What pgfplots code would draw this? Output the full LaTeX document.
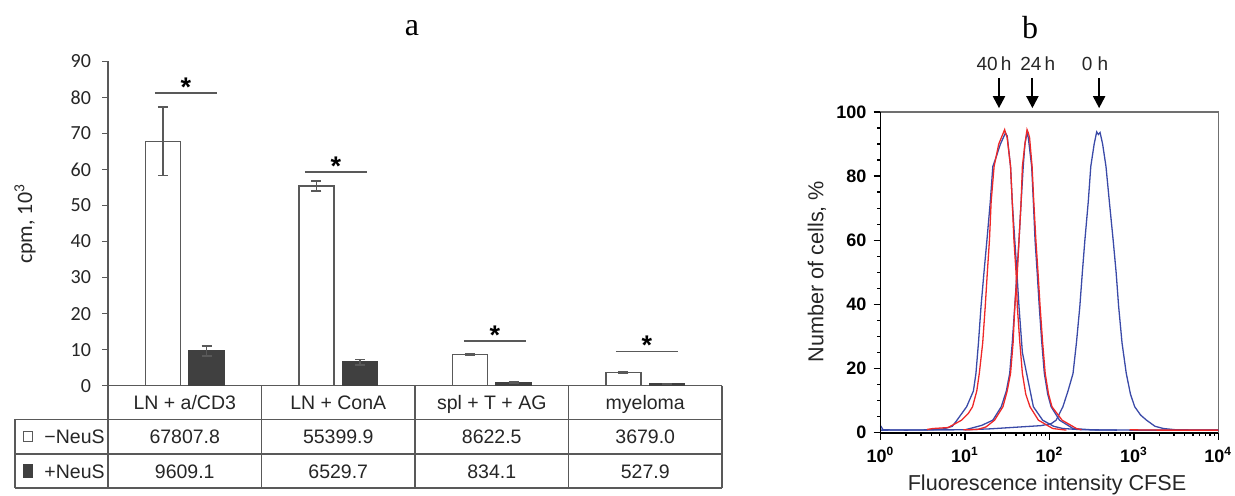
\documentclass[border=0pt]{standalone}
\usepackage{fontspec}
\setmainfont{Liberation Sans}
\newfontfamily\carlito{Carlito}
\newfontfamily\lserif{Liberation Serif}
\usepackage{pgfplots}
\pgfplotsset{compat=1.18}
\usetikzlibrary{arrows.meta}
\definecolor{axgray}{HTML}{595959}
\definecolor{barDark}{HTML}{404040}
\definecolor{txtgray}{HTML}{262626}
\definecolor{cblue}{HTML}{3A4AA8}
\definecolor{cred}{HTML}{EE2828}
\definecolor{boxgray}{HTML}{707070}

\begin{document}
\begin{tikzpicture}[x=1pt,y=1pt]
\path[use as bounding box] (0,0) rectangle (617.5,248);

% panel titles
\node[font=\lserif\fontsize{16}{18}\selectfont] at (206,234) {a};
\node[font=\lserif\fontsize{16}{18}\selectfont] at (515,234) {b};

% ---------------- panel a ----------------
\begin{axis}[
  at={(54pt,55.15pt)}, anchor=south west,
  scale only axis, width=307pt, height=162.2pt,
  xmin=-0.5, xmax=3.5, ymin=0, ymax=90,
  axis x line=bottom, axis y line=left,
  axis line style={-, draw=axgray, line width=0.75pt},
  x axis line style={-}, y axis line style={-},
  xtick=\empty, ytick={0,10,...,90},
  tick align=outside, major tick length=3pt,
  ytick style={draw=axgray, line width=0.75pt},
  yticklabel style={font=\carlito\fontsize{10}{11}\selectfont, text=txtgray, xshift=-2pt},
  /pgf/number format/assume math mode=true,
  clip=false,
]
% -NeuS (bars placed left of each category centre)
\addplot[ybar, bar width=17.5pt, bar shift=0pt, fill=white, draw=axgray, line width=0.75pt,
  error bars/.cd, y dir=both, y explicit,
  error bar style={axgray, line width=0.75pt},
  error mark options={rotate=90, axgray, mark size=2.5pt, line width=0.75pt}]
  coordinates {(-0.142,67.8078) +- (0,9.5) (0.858,55.3999) +- (0,1.35) (1.858,8.6225) +- (0,0.3) (2.858,3.6790) +- (0,0.2)};
% +NeuS (bars placed right of each category centre)
\addplot[ybar, bar width=17.5pt, bar shift=0pt, fill=barDark, draw=barDark, line width=0.75pt,
  error bars/.cd, y dir=both, y explicit,
  error bar style={axgray, line width=0.75pt},
  error mark options={rotate=90, axgray, mark size=2.5pt, line width=0.75pt}]
  coordinates {(0.142,9.6091) +- (0,1.4) (1.142,6.5297) +- (0,0.8) (2.142,0.8341) +- (0,0.15) (3.142,0.5279) +- (0,0.08)};
% significance lines
\addplot[axgray, line width=0.8pt, mark=none] coordinates {(-0.194,81.2) (0.21,81.2)};
\addplot[axgray, line width=0.8pt, mark=none] coordinates {(0.783,59.3) (1.187,59.3)};
\addplot[axgray, line width=0.8pt, mark=none] coordinates {(1.819,12.4) (2.223,12.4)};
\addplot[axgray, line width=0.8pt, mark=none] coordinates {(2.809,9.5) (3.213,9.5)};
\node[font=\bfseries\fontsize{13.5}{14}\selectfont, anchor=base, yshift=-1.6pt] at (axis cs:0.008,81.2) {*};
\node[font=\bfseries\fontsize{13.5}{14}\selectfont, anchor=base, yshift=-1.6pt] at (axis cs:0.985,59.3) {*};
\node[font=\bfseries\fontsize{13.5}{14}\selectfont, anchor=base, yshift=-1.6pt] at (axis cs:2.021,12.4) {*};
\node[font=\bfseries\fontsize{13.5}{14}\selectfont, anchor=base, yshift=-1.6pt] at (axis cs:3.011,9.5) {*};
% table
\draw[axgray, line width=0.75pt]
  (axis cs:-0.5,0) -- (axis cs:-0.5,-28.4)
  (axis cs:0.5,0) -- (axis cs:0.5,-28.4)
  (axis cs:1.5,0) -- (axis cs:1.5,-28.4)
  (axis cs:2.5,0) -- (axis cs:2.5,-28.4)
  (axis cs:3.5,0) -- (axis cs:3.5,-28.4)
  (axis cs:-1.106,-9.32) -- (axis cs:-1.106,-28.4)
  (axis cs:-1.106,-9.32) -- (axis cs:3.5,-9.32)
  (axis cs:-1.106,-18.95) -- (axis cs:3.5,-18.95)
  (axis cs:-1.106,-28.4) -- (axis cs:3.5,-28.4);
\begin{scope}[every node/.style={font=\fontsize{9.75}{11}\selectfont, text=txtgray, text height=7pt, text depth=0pt}]
\node at (axis cs:0,-4.66) {LN + a/CD3};
\node at (axis cs:1,-4.66) {LN + ConA};
\node at (axis cs:2,-4.66) {spl + T + AG};
\node at (axis cs:3,-4.66) {myeloma};
\node at (axis cs:0,-14.15) {67807.8};
\node at (axis cs:1,-14.15) {55399.9};
\node at (axis cs:2,-14.15) {8622.5};
\node at (axis cs:3,-14.15) {3679.0};
\node at (axis cs:0,-23.67) {9609.1};
\node at (axis cs:1,-23.67) {6529.7};
\node at (axis cs:2,-23.67) {834.1};
\node at (axis cs:3,-23.67) {527.9};
\node[anchor=east, inner xsep=0pt] at (axis cs:-0.5195,-14.15) {−NeuS};
\node[anchor=east, inner xsep=0pt] at (axis cs:-0.5195,-23.67) {+NeuS};
\end{scope}
\node[draw=axgray, fill=white, line width=0.6pt, minimum width=4.8pt, minimum height=5pt, inner sep=0pt] at (axis cs:-1.0215,-14.15) {};
\node[draw=barDark, fill=barDark, line width=0.4pt, minimum width=4.8pt, minimum height=6.4pt, inner sep=0pt] at (axis cs:-1.0215,-23.67) {};
\end{axis}
\node[rotate=90, font=\carlito\fontsize{11}{13}\selectfont, text=txtgray] at (12.5,136) {cpm, 10\textsuperscript{3}};

% ---------------- panel b ----------------
\begin{axis}[
  at={(440.25pt,31.65pt)}, anchor=south west,
  scale only axis, width=168.9pt, height=160.35pt,
  xmode=log, log basis x=10, xmin=1, xmax=10000, ymin=0, ymax=100,
  axis line style={draw=boxgray, line width=0.7pt},
  xtick={1,10,100,1000,10000},
  xticklabels={10\textsuperscript{0},10\textsuperscript{1},10\textsuperscript{2},10\textsuperscript{3},10\textsuperscript{4}},
  minor xtick={2,3,4,5,6,7,8,9,20,30,40,50,60,70,80,90,200,300,400,500,600,700,800,900,2000,3000,4000,5000,6000,7000,8000,9000},
  ytick={0,20,40,60,80,100},
  yticklabels={0,20,40,60,80,100},
  minor ytick={5,10,15,25,30,35,45,50,55,65,70,75,85,90,95},
  xtick pos=bottom, ytick pos=left,
  tick align=outside, major tick length=3.5pt, minor tick length=1.6pt,
  tick style={black, line width=0.7pt},
  ticklabel style={font=\bfseries\fontsize{9}{10}\selectfont},
  clip=false,
]
% blue 0 h
\addplot[cblue, line width=0.65pt, mark=none] coordinates {
(1,0.8) (10,0.9) (19.95,1.2) (39.81,1.7) (79.43,2.2) (104.7,2.8) (120.2,3.9) (144.5,8.1) (166.0,13) (190.5,18.5) (208.9,28) (229.1,39.3) (245.5,50) (263.0,60) (288.4,72) (309.0,83) (338.8,90) (363.1,93.8) (380.2,93.0) (398.1,93.6) (426.6,90) (467.7,83) (512.9,72) (568.9,60) (616.6,50) (660.7,39.3) (724.4,28) (812.8,18.5) (912.0,12) (1023,8.1) (1202,5.5) (1413,3.9) (1778,2.0) (2239,1.3) (3162,0.9) (10000,0.8)};
% blue 40 h
\addplot[cblue, line width=0.65pt, mark=none] coordinates {
(1,2.2) (1.072,0.9) (1.995,0.8) (3.981,0.9) (5.623,1.2) (7.079,2.0) (7.943,3.7) (10.47,8.1) (12.59,13) (13.49,18.5) (14.45,28) (15.49,39.3) (16.8,50) (18.20,60) (19.95,72) (21.38,83) (23.44,86) (26.30,90) (30.20,93.5) (31.62,92.5) (34.67,83) (36.31,72) (38.90,60) (41.21,50) (43.65,39.3) (47.86,25) (53.70,18.5) (64.57,8.1) (83.18,3.9) (112.2,2.0) (144.5,1.3) (251.2,0.9) (1000,0.8) (10000,0.8)};
% blue 24 h
\addplot[cblue, line width=0.65pt, mark=none] coordinates {
(10,0.9) (11.48,1.3) (15.85,2.3) (21.38,3.9) (26.92,8.1) (30.90,13) (33.88,18.5) (36.31,28) (38.90,39.3) (41.21,50) (43.65,60) (46.24,72) (48.98,83) (51.29,90) (54.33,93.5) (56.23,92) (61.66,83) (64.57,72) (67.61,60) (71.61,50) (75.86,39.3) (81.28,28) (87.10,18.5) (95.50,12) (104.7,8.1) (131.8,3.9) (190.5,1.3) (316.2,0.9) (631.0,0.8)};
% red 40 h
\addplot[cred, line width=0.65pt, mark=none] coordinates {
(3.548,1.0) (4.169,1.3) (6.310,1.6) (9.120,3.9) (10.96,6) (12.30,8.1) (13.80,13) (14.79,18.5) (16.22,28) (17.38,39.3) (18.41,50) (19.50,60) (20.42,72) (22.13,83) (25.12,90) (29.51,94.5) (30.20,93.5) (31.62,92) (34.67,83) (36.31,72) (38.02,60) (40.27,50) (41.69,39.3) (44.67,28) (47.86,18.5) (52.48,12) (58.88,8.1) (74.13,3.9) (109.6,1.3) (158.5,0.8)};
% red 24 h
\addplot[cred, line width=0.65pt, mark=none] coordinates {
(9.550,0.9) (14.13,1.0) (17.78,1.8) (22.39,3.9) (28.18,8.1) (31.62,13) (34.67,18.5) (37.15,28) (38.90,39.3) (41.69,50) (43.65,60) (46.24,72) (47.86,83) (51.29,90) (54.33,94.5) (56.23,93.5) (58.21,92) (62.37,83) (65.31,72) (69.18,60) (73.28,50) (77.62,39.3) (83.18,28) (89.13,18.5) (97.72,12) (107.2,8.1) (141.3,3.9) (208.9,1.3) (239.9,0.9)};
\addplot[cred, line width=0.65pt, mark=none] coordinates {(891.3,0.9) (1995,0.8) (10000,0.8)};
% left and bottom axis lines in black
\draw[black, line width=0.9pt] (rel axis cs:0,1) -- (rel axis cs:0,0) -- (rel axis cs:1,0);
% arrows
\draw[-{Triangle[width=6pt,length=6pt]}, line width=1pt] (axis cs:25.3,110.6) -- (axis cs:25.3,101.2);
\draw[-{Triangle[width=6pt,length=6pt]}, line width=1pt] (axis cs:62.9,110.6) -- (axis cs:62.9,101.2);
\draw[-{Triangle[width=6pt,length=6pt]}, line width=1pt] (axis cs:388,110.6) -- (axis cs:388,101.2);
\node[font=\fontsize{9.5}{11}\selectfont, text=txtgray] at (axis cs:22.1,115) {40\,h};
\node[font=\fontsize{9.5}{11}\selectfont, text=txtgray] at (axis cs:72.7,115) {24\,h};
\node[font=\fontsize{9.5}{11}\selectfont, text=txtgray] at (axis cs:346.7,115) {0 h};
\end{axis}
\node[rotate=90, font=\fontsize{10.8}{12}\selectfont, text=txtgray] at (408.5,112.25) {Number of cells, \%};
\node[anchor=base, font=\fontsize{10.8}{12}\selectfont, text=txtgray] at (523.5,2.6) {Fluorescence intensity CFSE};
\end{tikzpicture}
\end{document}
